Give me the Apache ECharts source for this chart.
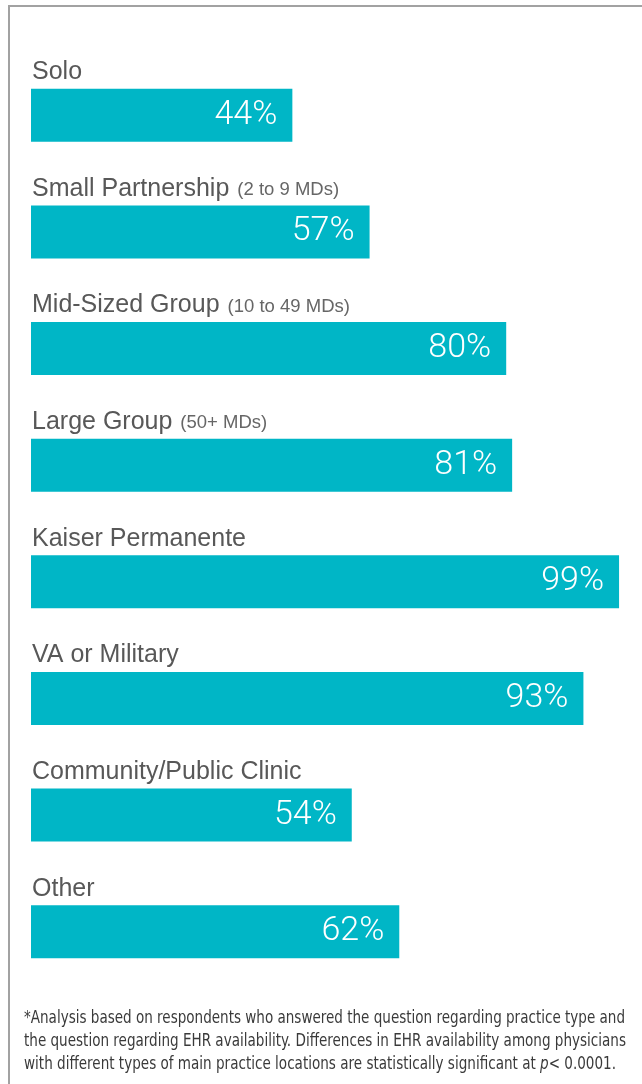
<!DOCTYPE html>
<html>
<head>
<meta charset="utf-8">
<script src="https://cdn.jsdelivr.net/npm/echarts@6/dist/echarts.min.js"></script>
<style>
  html, body { margin: 0; padding: 0; background: #fff; }
  #chart { width: 642px; height: 1084px; }
</style>
</head>
<body>
<div id="chart"></div>
<script>
// Practice types, top to bottom
const categories = [
  'Solo',
  'Small Partnership',
  'Mid-Sized Group',
  'Large Group',
  'Kaiser Permanente',
  'VA or Military',
  'Community/Public Clinic',
  'Other'
];
// Size qualifier shown after some practice types
const subLabels = ['', '(2 to 9 MDs)', '(10 to 49 MDs)', '(50+ MDs)', '', '', '', ''];
// Share of physicians with an EHR available (%)
const values = [44, 57, 80, 81, 99, 93, 54, 62];

// Footnote lines
const noteLines = [
  '*Analysis based on respondents who answered the question regarding practice type and',
  'the question regarding EHR availability. Differences in EHR availability among physicians',
  'with different types of main practice locations are statistically significant at '
];
const noteTail = ['p', '<', ' 0.0001.'];

const NOTE_FONT = "'Liberation Sans Narrow', 'DejaVu Sans Condensed', 'Liberation Sans', sans-serif";
const NOTE_SIZE = 17;
const noteWidths = [601, 602, 592];

// Horizontal squeeze for each footnote line so it fills its measured width
const ctx = document.createElement('canvas').getContext('2d');
function measure(txt, style) {
  ctx.font = (style || '') + ' ' + NOTE_SIZE + 'px ' + NOTE_FONT;
  return ctx.measureText(txt).width;
}
const noteScale = noteLines.map((line, i) => {
  let w = measure(line);
  if (i === 2) {
    w += measure(noteTail[0], 'italic') + measure(noteTail[1]) + measure(noteTail[2]);
  }
  return noteWidths[i] / w;
});

const chart = echarts.init(document.getElementById('chart'), null, { renderer: 'canvas' });

const noteBaselines = [1027, 1050, 1073];
const LABEL_FONT = "'Liberation Sans', Arial, sans-serif";

chart.setOption({
  animation: false,
  backgroundColor: '#ffffff',
  grid: { left: 31, top: 57, width: 594, height: 933, containLabel: false },
  xAxis: {
    type: 'value',
    min: 0,
    max: 100,
    show: false
  },
  yAxis: {
    type: 'category',
    inverse: true,
    data: categories,
    axisLine: { show: false },
    axisTick: { show: false },
    splitLine: { show: false },
    axisLabel: {
      inside: true,
      interval: 0,
      margin: 1,
      align: 'left',
      verticalAlign: 'middle',
      padding: [0, 0, 86, 0],
      formatter: (val, idx) => {
        const sub = subLabels[idx];
        return sub ? '{main|' + val + '}{sub|' + sub + '}' : '{main|' + val + '}';
      },
      rich: {
        main: {
          fontFamily: LABEL_FONT,
          fontSize: 25,
          color: '#585858',
          lineHeight: 28
        },
        sub: {
          fontFamily: LABEL_FONT,
          fontSize: 18.5,
          color: '#666666',
          lineHeight: 28,
          padding: [2, 0, 0, 8]
        }
      }
    }
  },
  series: [{
    type: 'bar',
    data: values,
    barWidth: 53,
    itemStyle: { color: '#00b6c6' },
    label: {
      show: true,
      position: 'insideRight',
      distance: 15,
      formatter: '{c}%',
      color: '#ffffff',
      fontFamily: 'Roboto, sans-serif',
      fontWeight: 300,
      fontSize: 34
    },
    silent: true
  }],
  graphic: [
    {
      type: 'polyline',
      shape: { points: [[9, 1084], [9, 6], [642, 6]] },
      style: { stroke: '#a2a2a2', lineWidth: 2, fill: null },
      silent: true
    }
  ].concat(noteLines.map((line, i) => ({
    type: 'text',
    x: 24,
    y: noteBaselines[i],
    scaleX: noteScale[i],
    style: {
      text: i === 2 ? line + '{it|' + noteTail[0] + '}' + noteTail[1] + noteTail[2] : line,
      fontFamily: NOTE_FONT,
      fontSize: NOTE_SIZE,
      fill: '#3a3a3a',
      verticalAlign: 'bottom',
      rich: {
        it: { fontStyle: 'italic', fontFamily: NOTE_FONT, fontSize: NOTE_SIZE, fill: '#3a3a3a' }
      }
    },
    silent: true
  })))
});
</script>
</body>
</html>
